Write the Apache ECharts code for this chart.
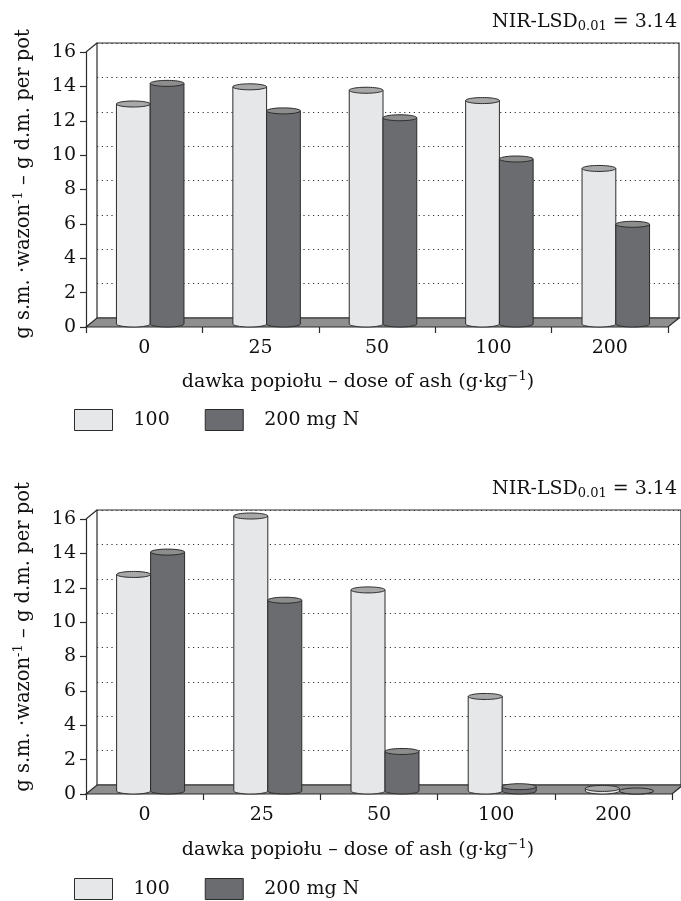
<!DOCTYPE html>
<html><head><meta charset="utf-8">
<script src="https://cdn.jsdelivr.net/npm/echarts@6/dist/echarts.min.js"></script>
<style>html,body{margin:0;padding:0;background:#fff}#c{width:681px;height:901px}</style>
</head><body><div id="c"></div>
<script>
// ---- data ----
const categories = ['0', '25', '50', '100', '200'];
const seriesNames = ['100', '200 mg N'];
const top100 = [12.8, 13.8, 13.6, 13.0, 9.05];
const top200 = [14.0, 12.4, 12.0, 9.6, 5.8];
const bot100 = [12.6, 16.0, 11.7, 5.5, 0.15];
const bot200 = [13.9, 11.1, 2.3, 0.25, 0.0];
const yMin = 0, yMax = 16, yStep = 2;
const lsdMain = 'NIR-LSD', lsdSub = '0.01', lsdVal = ' = 3.14';
const yTitleA = 'g s.m. ·wazon', yTitleSup = '-1', yTitleB = ' – g d.m. per pot';
const xTitleA = 'dawka popiołu – dose of ash (g·kg', xTitleSup = '−1', xTitleB = ')';

// ---- layout / style ----
const FONT = 'DejaVu Serif';
const FS = 19;
const INK = '#111111';
const LIGHT = '#e6e7e9', DARK = '#6b6c70';
const LIGHT_TOP = '#a8a8a8', DARK_TOP = '#8d8d8d';
const FLOOR = '#8f8f8f', EDGE = '#2b2b2b';
const DX = 11, DY = -9;      // depth of back wall
const MDX = 6, MDY = -3;     // depth of bar row
const BAR_FRAC = 0.29, RY = 3;

const panels = [
  { left: 86, top: 52, width: 582, height: 275, data: [top100, top200],
    lsdY: 22, yTitleY: 184, xTitleY: 382, legendTop: 409 },
  { left: 86, top: 519, width: 586, height: 275, data: [bot100, bot200],
    lsdY: 489, yTitleY: 637, xTitleY: 850, legendTop: 878 }
];

function cylinder(side, bodyFill, topFill) {
  return function (params, api) {
    const idx = api.value(0), v = api.value(1);
    const base = api.coord([idx, 0]);
    const tp = api.coord([idx, v]);
    const band = api.size([1, 0])[0];
    const w = band * BAR_FRAC;
    const x0 = base[0] + (side < 0 ? -w : 0);
    const cx = x0 + w / 2, rx = w / 2;
    const body = [[x0, tp[1]]];
    for (let i = 0; i <= 24; i++) {
      const t = Math.PI * i / 24;
      body.push([cx - rx * Math.cos(t), base[1] + RY * Math.sin(t)]);
    }
    body.push([x0 + w, tp[1]]);
    const cap = [];
    for (let i = 0; i < 48; i++) {
      const t = 2 * Math.PI * i / 48;
      cap.push([cx + rx * Math.cos(t), tp[1] + RY * Math.sin(t)]);
    }
    return { type: 'group', children: [
      { type: 'polygon', shape: { points: body }, style: { fill: bodyFill, stroke: EDGE, lineWidth: 1 } },
      { type: 'polygon', shape: { points: cap }, style: { fill: topFill, stroke: EDGE, lineWidth: 1 } }
    ]};
  };
}

function floorRender(params, api) {
  const cs = params.coordSys;
  const x = cs.x, y = cs.y, w = cs.width, h = cs.height;
  return { type: 'group', children: [
    { type: 'polygon', shape: { points: [[x, y + h], [x + w, y + h], [x + w + DX, y + h + DY], [x + DX, y + h + DY]] },
      style: { fill: FLOOR, stroke: EDGE, lineWidth: 1.2 } },
    { type: 'line', shape: { x1: x, y1: y, x2: x + DX, y2: y + DY }, style: { stroke: EDGE, lineWidth: 1.2 } }
  ]};
}

const grid = [], xAxis = [], yAxis = [], series = [], graphic = [], legend = [];
const catAxisBase = { type: 'category', data: categories };
const txt = { fontFamily: FONT, fontSize: FS, color: INK };

panels.forEach((p, k) => {
  const g0 = k * 3;
  grid.push({ left: p.left, top: p.top, width: p.width, height: p.height, show: false });
  grid.push({ left: p.left + DX, top: p.top + DY, width: p.width, height: p.height, show: true,
              borderColor: EDGE, borderWidth: 1.2, backgroundColor: 'transparent' });
  grid.push({ left: p.left + MDX, top: p.top + MDY, width: p.width, height: p.height, show: false });

  xAxis.push(Object.assign({}, catAxisBase, { gridIndex: g0,
    axisLine: { show: false },
    axisTick: { show: true, length: 6, lineStyle: { color: EDGE, width: 1.2 } },
    axisLabel: Object.assign({ margin: 12 }, txt) }));
  xAxis.push(Object.assign({}, catAxisBase, { gridIndex: g0 + 1, show: false }));
  xAxis.push(Object.assign({}, catAxisBase, { gridIndex: g0 + 2, show: false }));

  yAxis.push({ type: 'value', gridIndex: g0, min: yMin, max: yMax, interval: yStep,
    axisLine: { show: true, lineStyle: { color: EDGE, width: 1.2 } },
    axisTick: { show: true, length: 6, lineStyle: { color: EDGE, width: 1.2 } },
    splitLine: { show: false },
    axisLabel: Object.assign({ margin: 10 }, txt) });
  yAxis.push({ type: 'value', gridIndex: g0 + 1, min: yMin, max: yMax, interval: yStep,
    axisLine: { show: false }, axisTick: { show: false }, axisLabel: { show: false },
    splitLine: { show: true, lineStyle: { color: '#333', width: 1.2, type: [1.2, 3.6] } } });
  yAxis.push({ type: 'value', gridIndex: g0 + 2, min: yMin, max: yMax, show: false });

  series.push({ type: 'custom', name: 'floor' + k, xAxisIndex: g0, yAxisIndex: g0, z: 1,
    silent: true, data: [[0, 0]], renderItem: floorRender });
  const fills = [[LIGHT, LIGHT_TOP], [DARK, DARK_TOP]];
  p.data.forEach((arr, s) => {
    series.push({ type: 'custom', name: seriesNames[s], xAxisIndex: g0 + 2, yAxisIndex: g0 + 2, z: 3,
      itemStyle: { color: fills[s][0] },
      data: arr.map((v, i) => [i, v]),
      renderItem: cylinder(s === 0 ? -1 : 1, fills[s][0], fills[s][1]) });
  });

  legend.push({ left: 74, top: p.legendTop, padding: 0, orient: 'horizontal', icon: 'rect',
    itemWidth: 38, itemHeight: 21, itemGap: 35, selectedMode: false,
    itemStyle: { borderColor: EDGE, borderWidth: 1 },
    textStyle: { fontFamily: FONT, fontSize: FS, color: INK, padding: [0, 0, 0, 16] },
    data: [{ name: seriesNames[0], itemStyle: { color: LIGHT } },
           { name: seriesNames[1], itemStyle: { color: DARK } }] });

  graphic.push({ type: 'text', x: 677, y: p.lsdY, z: 10,
    style: { text: '{m|' + lsdMain + '}{s|' + lsdSub + '}{m|' + lsdVal + '}', align: 'right', verticalAlign: 'middle',
      rich: { m: { fontFamily: FONT, fontSize: FS, fill: INK },
              s: { fontFamily: FONT, fontSize: 13, fill: INK, padding: [10, 0, 0, 0] } } } });
  graphic.push({ type: 'text', x: 24, y: p.yTitleY, rotation: Math.PI / 2, z: 10,
    style: { text: '{m|' + yTitleA + '}{u|' + yTitleSup + '}{m|' + yTitleB + '}', align: 'center', verticalAlign: 'middle',
      rich: { m: { fontFamily: FONT, fontSize: 19.5, fill: INK },
              u: { fontFamily: FONT, fontSize: 13, fill: INK, padding: [0, 0, 10, 0] } } } });
  graphic.push({ type: 'text', x: 358, y: p.xTitleY, z: 10,
    style: { text: '{m|' + xTitleA + '}{u|' + xTitleSup + '}{m|' + xTitleB + '}', align: 'center', verticalAlign: 'middle',
      rich: { m: { fontFamily: FONT, fontSize: FS, fill: INK },
              u: { fontFamily: FONT, fontSize: 13, fill: INK, padding: [0, 0, 10, 0] } } } });
});

const chart = echarts.init(document.getElementById('c'), null, { renderer: 'canvas' });
chart.setOption({
  animation: false,
  backgroundColor: '#ffffff',
  grid, xAxis, yAxis, series, legend, graphic
});
</script>
</body></html>
